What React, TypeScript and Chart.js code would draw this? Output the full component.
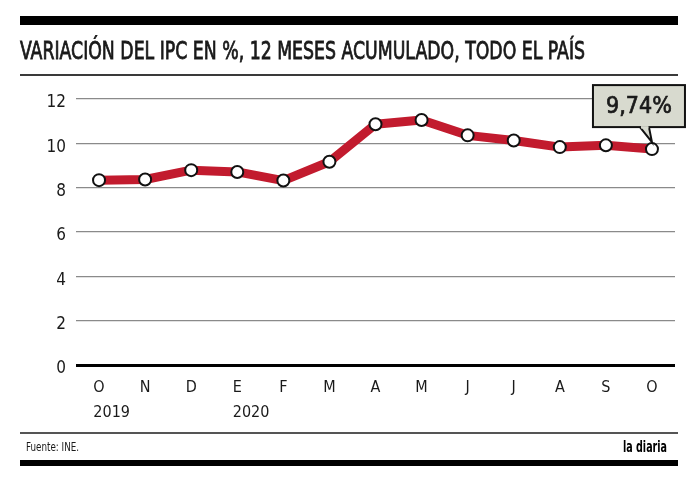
import React, { useEffect, useLayoutEffect, useRef } from "react";
import { Chart, registerables } from "chart.js";

Chart.register(...registerables);

// ---- data ----
const months = ["O", "N", "D", "E", "F", "M", "A", "M", "J", "J", "A", "S", "O"];
const yearLabels = ["2019", "", "", "2020", "", "", "", "", "", "", "", "", ""];
const ipc = [8.34, 8.37, 8.79, 8.71, 8.32, 9.17, 10.86, 11.05, 10.36, 10.13, 9.83, 9.91, 9.74];
const yTicks = [0, 2, 4, 6, 8, 10, 12];
const calloutText = "9,74%";
const titleText = "VARIACIÓN DEL IPC EN %, 12 MESES ACUMULADO, TODO EL PAÍS";
const sourceText = "Fuente: INE.";
const brandText = "la diaria";

// ---- styles ----
const FONT = '"Liberation Sans Narrow", "DejaVu Sans Condensed", Roboto, sans-serif';
const RED = "#c21b2e";
const BOX = "#d8dacf";
const INK = "#1a1a1a";

function FitText(props: { text: string; left: number; top: number; width: number; style: React.CSSProperties }) {
  const ref = useRef<HTMLSpanElement | null>(null);
  useLayoutEffect(() => {
    const el = ref.current;
    if (!el) return;
    el.style.transform = "none";
    const w = el.getBoundingClientRect().width;
    if (w > 0) el.style.transform = `scaleX(${props.width / w})`;
  }, [props.text, props.width]);
  return (
    <span
      ref={ref}
      style={{
        position: "absolute",
        left: props.left,
        top: props.top,
        whiteSpace: "nowrap",
        display: "inline-block",
        transformOrigin: "left top",
        ...props.style,
      }}
    >
      {props.text}
    </span>
  );
}

const yearPlugin = {
  id: "yearLabels",
  afterDraw(chart: any) {
    const x = chart.scales.x;
    const ctx = chart.ctx;
    ctx.save();
    ctx.fillStyle = INK;
    ctx.textBaseline = "middle";
    ctx.textAlign = "left";
    ctx.font = `16px ${FONT}`;
    yearLabels.forEach((yr, i) => {
      if (!yr) return;
      const px = x.getPixelForValue(i);
      const half = ctx.measureText(months[i]).width / 2;
      ctx.fillText(yr, px - half, x.top + 48);
    });
    ctx.restore();
  },
};

const calloutPlugin = {
  id: "callout",
  afterDatasetsDraw(chart: any) {
    const meta = chart.getDatasetMeta(0);
    const pt = meta.data[meta.data.length - 1];
    if (!pt) return;
    const px = pt.x;
    const py = pt.y;
    const ctx = chart.ctx;
    const left = px - 59;
    const top = py - 64;
    const w = 92;
    const h = 42;
    const bottom = top + h;
    ctx.save();
    ctx.lineWidth = 2;
    ctx.strokeStyle = "#111";
    ctx.fillStyle = BOX;
    ctx.fillRect(left, top, w, h);
    ctx.strokeRect(left, top, w, h);
    // tail
    ctx.beginPath();
    ctx.moveTo(px - 12, bottom);
    ctx.lineTo(px, py - 7);
    ctx.lineTo(px - 3, bottom);
    ctx.closePath();
    ctx.fill();
    ctx.beginPath();
    ctx.moveTo(px - 12, bottom);
    ctx.lineTo(px, py - 7);
    ctx.lineTo(px - 3, bottom);
    ctx.stroke();
    ctx.fillStyle = BOX;
    ctx.fillRect(px - 11, bottom - 1, 7.5, 2.5);
    // text
    ctx.fillStyle = INK;
    ctx.strokeStyle = INK;
    ctx.lineWidth = 0.7;
    ctx.textAlign = "center";
    ctx.textBaseline = "middle";
    ctx.font = `23px ${FONT}`;
    ctx.fillText(calloutText, px - 13, py - 42);
    ctx.strokeText(calloutText, px - 13, py - 42);
    ctx.restore();
  },
};

export default function App() {
  const canvasRef = useRef<HTMLCanvasElement | null>(null);

  useEffect(() => {
    document.body.style.margin = "0";
    const canvas = canvasRef.current;
    if (!canvas) return;
    const chart = new Chart(canvas, {
      type: "line",
      data: {
        labels: months,
        datasets: [
          {
            data: ipc,
            borderColor: RED,
            borderWidth: 9,
            borderJoinStyle: "round",
            borderCapStyle: "round",
            tension: 0,
            pointRadius: 6,
            pointBorderWidth: 2,
            pointBackgroundColor: "#ffffff",
            pointBorderColor: "#111111",
          },
        ],
      },
      options: {
        animation: false,
        responsive: false,
        maintainAspectRatio: false,
        layout: { padding: { top: 99, right: 25, left: 0, bottom: 0 } },
        plugins: {
          legend: { display: false },
          tooltip: { enabled: false },
          title: { display: false },
        },
        scales: {
          x: {
            offset: true,
            grid: { display: false, drawTicks: false },
            border: { display: false },
            ticks: {
              color: INK,
              font: { family: FONT, size: 16 },
              padding: 13,
              maxRotation: 0,
              autoSkip: false,
            },
            afterFit: (s: any) => {
              s.height = 117;
            },
          },
          y: {
            min: 0,
            max: 12,
            afterBuildTicks: (s: any) => {
              s.ticks = yTicks.map((v) => ({ value: v }));
            },
            grid: {
              drawTicks: false,
              color: (c: any) => (c.tick && c.tick.value === 0 ? "#000000" : "#8a8a8a"),
              lineWidth: (c: any) => (c.tick && c.tick.value === 0 ? 3 : 1.3),
            },
            border: { display: false },
            ticks: {
              color: INK,
              font: { family: FONT, size: 17 },
              padding: 10,
              labelOffset: 4,
            },
            afterFit: (s: any) => {
              s.width = 76;
            },
          },
        },
      },
      plugins: [yearPlugin, calloutPlugin],
    } as any);
    return () => chart.destroy();
  }, []);

  return (
    <div style={{ position: "relative", width: 700, height: 482, background: "#fff", overflow: "hidden" }}>
      <canvas ref={canvasRef} width={700} height={482} style={{ position: "absolute", left: 0, top: 0, width: 700, height: 482 }} />
      <div style={{ position: "absolute", left: 20, top: 16, width: 658, height: 9, background: "#000" }} />
      <FitText
        text={titleText}
        left={20}
        top={38}
        width={565}
        style={{ fontFamily: FONT, fontWeight: 400, fontSize: 25, lineHeight: "25px", color: INK, WebkitTextStroke: "0.8px #1a1a1a" }}
      />
      <div style={{ position: "absolute", left: 20, top: 74, width: 658, height: 2, background: "#3a3a3a" }} />
      <div style={{ position: "absolute", left: 20, top: 432, width: 658, height: 2, background: "#555" }} />
      <FitText
        text={sourceText}
        left={26}
        top={440}
        width={53}
        style={{ fontFamily: FONT, fontSize: 12, lineHeight: "14px", color: INK }}
      />
      <FitText
        text={brandText}
        left={623}
        top={438}
        width={44}
        style={{ fontFamily: FONT, fontWeight: 700, fontSize: 16, lineHeight: "18px", color: "#000" }}
      />
      <div style={{ position: "absolute", left: 20, top: 460, width: 658, height: 6, background: "#000" }} />
    </div>
  );
}
